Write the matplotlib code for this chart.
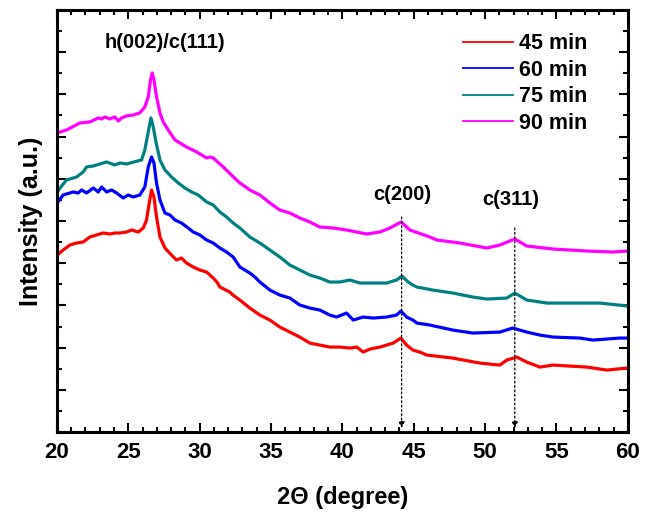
import matplotlib
matplotlib.use("Agg")
import matplotlib.pyplot as plt
from matplotlib.ticker import MultipleLocator, AutoMinorLocator

plt.rcParams["font.family"] = ["Liberation Sans", "DejaVu Sans"]
plt.rcParams["font.weight"] = "bold"

# XRD patterns (2-theta in degree, intensity in arbitrary units, stacked)
tt_45 = [20.02, 20.44, 20.91, 21.38, 21.84, 22.31, 23.24, 23.71, 24.06, 24.41, 24.88,
         25.23, 25.7, 26.05, 26.28, 26.47, 26.63, 26.8, 26.98, 27.22, 27.57, 28.03,
         28.38, 28.73, 29.08, 29.55, 30.02, 30.49, 30.95, 31.21, 31.42, 32.12, 32.33,
         32.82, 33.52, 34.22, 34.92, 35.62, 36.32, 37.02, 37.72, 38.42, 39.12, 39.82,
         40.53, 41.0, 41.46, 41.93, 42.63, 43.1, 43.56, 44.1, 44.5, 44.94, 45.43,
         45.92, 47.74, 49.63, 51.03, 51.52, 52.22, 52.92, 53.84, 54.75, 57.13, 58.53,
         59.93]
int_45 = [177, 182, 187, 189, 190, 195, 199, 198, 199, 199, 200,
          202, 200, 204, 212, 229, 242, 235, 215, 195, 184, 177,
          172, 174, 169, 165, 162, 160, 154, 150, 145, 140, 137,
          132, 124, 117, 112, 105, 100, 95, 89, 87, 85, 85,
          84, 85, 80, 83, 85, 87, 89, 94, 87, 82, 80,
          77, 74, 69, 67, 72, 75, 70, 65, 67, 65, 62,
          64]

tt_60 = [20.02, 20.44, 21.14, 21.49, 21.73, 22.08, 22.55, 22.9, 23.13, 23.48, 23.83,
         24.18, 24.65, 24.99, 25.35, 25.81, 26.16, 26.4, 26.63, 26.8, 26.98, 27.22,
         27.57, 27.92, 28.27, 28.73, 29.2, 29.55, 30.02, 30.49, 30.95, 31.42, 31.89,
         32.35, 32.82, 33.52, 33.87, 34.22, 34.92, 35.62, 36.32, 37.02, 37.72, 38.42,
         39.12, 39.59, 40.29, 40.76, 41.46, 42.16, 43.1, 43.8, 44.1, 44.5, 44.94,
         45.22, 46.13, 47.74, 49.14, 51.03, 51.94, 52.92, 53.84, 54.75, 56.64, 57.55,
         59.44, 60.0]
int_60 = [229, 237, 240, 239, 242, 239, 244, 240, 245, 240, 242,
          239, 234, 237, 235, 237, 245, 265, 275, 269, 249, 232,
          219, 217, 212, 209, 204, 200, 197, 192, 189, 184, 180,
          175, 165, 159, 155, 150, 142, 137, 134, 127, 124, 122,
          117, 115, 119, 112, 115, 114, 115, 117, 121, 115, 112,
          109, 107, 102, 99, 100, 104, 100, 97, 95, 94, 92,
          94, 94]

tt_75 = [20.02, 20.33, 20.68, 21.38, 21.84, 22.08, 22.55, 23.48, 24.06, 24.41, 24.88,
         25.93, 26.16, 26.4, 26.59, 26.75, 26.94, 27.22, 27.57, 28.03, 28.5, 28.97,
         29.44, 29.9, 30.49, 30.95, 31.42, 31.89, 32.35, 32.82, 33.52, 34.22, 34.92,
         35.62, 36.32, 37.02, 37.72, 38.42, 39.12, 39.82, 40.53, 41.23, 42.16, 43.1,
         43.8, 44.17, 44.61, 44.94, 45.22, 46.34, 47.74, 49.14, 50.12, 51.52, 52.08,
         52.92, 54.33, 56.15, 58.04, 60.0]
int_75 = [240, 246, 252, 255, 260, 265, 266, 270, 267, 269, 268,
          272, 282, 300, 314, 305, 290, 272, 262, 255, 249, 244,
          240, 237, 230, 227, 220, 215, 209, 204, 195, 189, 182,
          175, 167, 162, 157, 154, 150, 150, 152, 149, 149, 149,
          152, 156, 150, 147, 145, 142, 139, 135, 133, 134, 139,
          132, 129, 129, 129, 126]

tt_90 = [20.02, 20.68, 21.61, 22.31, 22.9, 23.13, 23.36, 23.71, 24.06, 24.3, 24.53,
         24.88, 25.35, 25.81, 26.16, 26.4, 26.56, 26.68, 26.8, 26.98, 27.22, 27.45,
         27.8, 28.27, 28.62, 29.08, 29.79, 30.49, 30.72, 30.95, 31.65, 32.59, 32.82,
         33.52, 34.22, 34.92, 35.62, 36.32, 37.02, 37.72, 38.42, 39.36, 40.29, 41.0,
         41.7, 42.63, 43.33, 44.12, 44.73, 46.13, 46.62, 48.23, 50.12, 51.03, 52.08,
         52.92, 54.75, 57.13, 58.95, 60.0]
int_90 = [299, 302, 309, 310, 314, 313, 315, 313, 315, 311, 314,
          316, 317, 319, 325, 335, 352, 359, 352, 335, 319, 310,
          302, 292, 289, 285, 280, 274, 275, 274, 265, 252, 249,
          242, 237, 229, 222, 219, 214, 210, 205, 204, 202, 200,
          198, 200, 204, 210, 202, 195, 192, 189, 184, 187, 193,
          186, 183, 181, 180, 181]

series = [
    (tt_45, int_45, "#ff0000", "45 min"),
    (tt_60, int_60, "#0000ff", "60 min"),
    (tt_75, int_75, "#008080", "75 min"),
    (tt_90, int_90, "#ff00ff", "90 min"),
]

# peak labels: (text, x, y) and marker lines (x, top of dotted line)
peak_labels = [("h(002)/c(111)", 27.6, 389), ("c(200)", 44.2, 237), ("c(311)", 51.8, 232)]
peak_marks = [(44.15, 215), (52.08, 204)]

fig = plt.figure(figsize=(6.54, 5.2), dpi=100)
ax = fig.add_axes([0.087, 0.169, 0.873, 0.812])

for x, y, c, lab in series:
    ax.plot(x, y, color=c, lw=2.3, label=lab)

for txt, x, y in peak_labels:
    ax.text(x, y, txt, ha="center", va="center", fontsize=14.5, fontweight="bold")

for x, top in peak_marks:
    ax.annotate("", xy=(x, 4), xytext=(x, top),
                arrowprops=dict(arrowstyle="-|>", color="black", lw=0.9,
                                linestyle=(0, (1.5, 2.0)), mutation_scale=9,
                                shrinkA=0, shrinkB=0))

ax.set_xlim(20, 60)
ax.set_ylim(0, 422)
ax.xaxis.set_major_locator(MultipleLocator(5))
ax.xaxis.set_minor_locator(MultipleLocator(1))
ax.yaxis.set_major_locator(MultipleLocator(42.2))
ax.yaxis.set_minor_locator(AutoMinorLocator(2))
ax.tick_params(which="both", direction="in", top=True, right=True, width=1.5)
ax.tick_params(which="major", length=6.5, labelsize=16, pad=7)
ax.tick_params(which="minor", length=3.5)
ax.tick_params(axis="y", which="both", labelleft=False)
for lbl in ax.get_xticklabels():
    lbl.set_fontweight("bold")
for sp in ax.spines.values():
    sp.set_linewidth(2.2)

ax.set_xlabel("2\u0398 (degree)", fontsize=17, fontweight="bold", labelpad=17)
ax.set_ylabel("Intensity (a.u.)", fontsize=18, fontweight="bold", labelpad=10)

leg = ax.legend(loc="upper right", bbox_to_anchor=(0.963, 0.99), frameon=False,
                fontsize=15.5, handlelength=2.3, handletextpad=0.3, labelspacing=0.25)
for h in leg.get_lines():
    h.set_linewidth(1.3)

fig.savefig("out.png", dpi=100)
